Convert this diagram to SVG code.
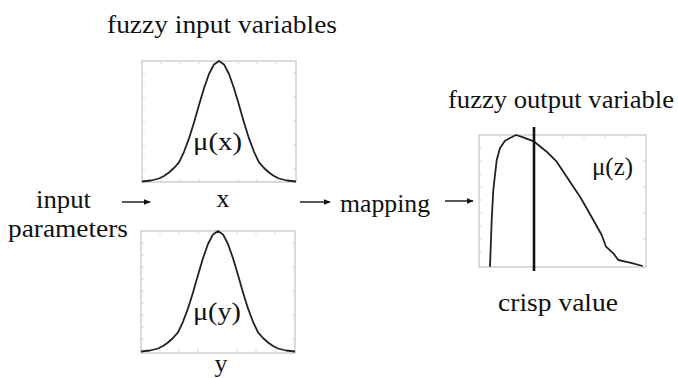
<svg xmlns="http://www.w3.org/2000/svg" xmlns:xlink="http://www.w3.org/1999/xlink" width="678" height="378" viewBox="0 0 678 378">
<style>
text{font-family:"Liberation Serif","Times New Roman",serif;font-size:26px;fill:#111}
.box{fill:#fff;stroke:#c4c4c4;stroke-width:1.2}
.tick{stroke:#d8d8d8;stroke-width:1}
.curve{fill:none;stroke:#222;stroke-width:1.8;stroke-linejoin:round}
.arrow{stroke:#111;stroke-width:1.4;marker-end:url(#ah)}
</style>
<defs>
<marker id="ah" viewBox="0 0 10 10" refX="9" refY="5" markerWidth="7" markerHeight="7" markerUnits="userSpaceOnUse" orient="auto">
<path d="M0,1 L10,5 L0,9 Z" fill="#111"/>
</marker>
<path id="gauss" class="curve" d="M142,181.5 L151,180.5 L159,178.5 L164,176 L169,172.5 L174,168 L179,162.3 L184,151.8 L189,138.4 L194,122.4 L199,105.1 L204,88.3 L209,74 L214,64.4 L219,61 L224,64.4 L229,74 L234,88.3 L239,105.1 L244,122.4 L249,138.4 L254,151.8 L259,162.3 L264,168 L269,172.5 L274,176 L279,178.5 L287,180.5 L296,181.5"/>
<g id="ticksIn">
<path class="tick" d="M142,73h3M142,85h3M142,97h3M142,109h3M142,121h3M142,133h3M142,145h3M142,157h3M142,169h3M161,61v3M180,61v3M199,61v3M238,61v3M257,61v3M276,61v3M293,73h3M293,97h3M293,121h3M293,145h3M293,169h3M161,182v-3M180,182v-3M199,182v-3M238,182v-3M257,182v-3M276,182v-3"/>
</g>
</defs>
<g id="title-in"><text x="107" y="33" textLength="230" lengthAdjust="spacingAndGlyphs">fuzzy input variables</text></g>
<g id="input-params">
<text x="36" y="208" textLength="55" lengthAdjust="spacingAndGlyphs">input</text>
<text x="8" y="237" textLength="120" lengthAdjust="spacingAndGlyphs">parameters</text>
</g>
<g id="mf-x">
<rect class="box" x="142" y="61" width="154" height="121"/>
<use xlink:href="#ticksIn"/>
<use xlink:href="#gauss"/>
<text x="193" y="150" textLength="49" lengthAdjust="spacingAndGlyphs">μ(x)</text>
<text x="223" y="207" text-anchor="middle">x</text>
</g>
<g id="mf-y">
<rect class="box" x="141" y="231" width="154" height="122"/>
<use xlink:href="#ticksIn" transform="translate(-1,170)"/>
<use xlink:href="#gauss" transform="translate(-1,170)"/>
<text x="193" y="320" textLength="48" lengthAdjust="spacingAndGlyphs">μ(y)</text>
<text x="221" y="372" text-anchor="middle">y</text>
</g>
<g id="mapping"><text x="340" y="212" textLength="90" lengthAdjust="spacingAndGlyphs">mapping</text></g>
<g id="mf-z">
<text x="448" y="108" textLength="226" lengthAdjust="spacingAndGlyphs">fuzzy output variable</text>
<rect class="box" x="479" y="135" width="167" height="132"/>
<path class="tick" d="M479,148h3M479,161h3M479,174h3M479,187h3M479,200h3M479,213h3M479,226h3M479,239h3M479,252h3M500,135v3M521,135v3M563,135v3M584,135v3M605,135v3M626,135v3M643,161h3M643,187h3M643,213h3M643,239h3"/>
<path class="curve" stroke-width="2" d="M490,266.7 L491.7,220 L493.3,190 L496.7,160 L500,148 L505,140.7 L510,138 L516,135 L523.3,137.3 L534.3,141.7 L546.7,151.7 L556.7,161.7 L570,181.7 L580,196.7 L586.7,208.3 L593.3,220 L601.7,235 L606,246.7 L613.3,253.3 L618.3,260 L630,262.7 L642.7,266"/>
<line x1="534" y1="127" x2="534" y2="271" stroke="#111" stroke-width="2.6"/>
<text x="592" y="175" textLength="41" lengthAdjust="spacingAndGlyphs">μ(z)</text>
<text x="498" y="311" textLength="120" lengthAdjust="spacingAndGlyphs">crisp value</text>
</g>
<g id="connectors">
<line class="arrow" x1="122" y1="202" x2="150" y2="202"/>
<line class="arrow" x1="300" y1="202" x2="330" y2="202"/>
<line class="arrow" x1="445" y1="201" x2="473" y2="201"/>
</g>
</svg>
